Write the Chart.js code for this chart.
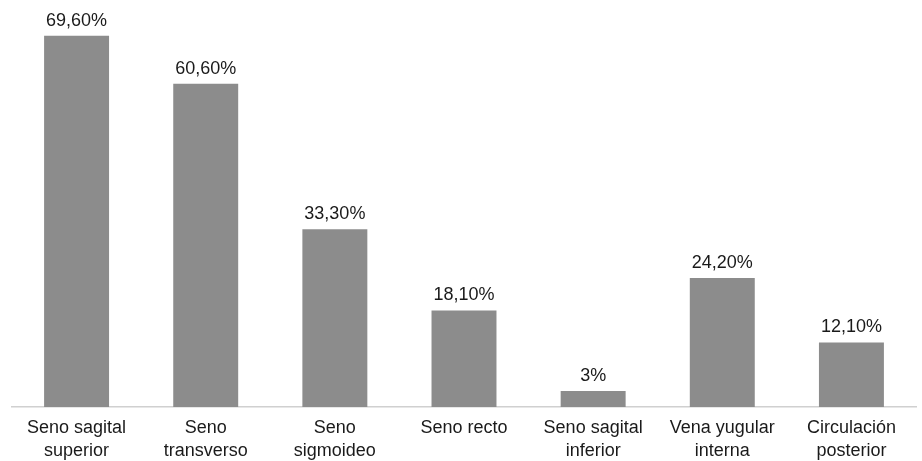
<!DOCTYPE html>
<html>
<head>
<meta charset="utf-8">
<script src="https://cdn.jsdelivr.net/npm/chart.js@4"></script>
<style>
    html, body { margin: 0; padding: 0; background: #fff; }
    #wrap { width: 922px; height: 461px; }
</style>
</head>
<body>
<div id="wrap"><canvas id="myChart"></canvas></div>
<script>
"use strict"

const categories = [
    ["Seno sagital", "superior"],
    ["Seno", "transverso"],
    ["Seno", "sigmoideo"],
    "Seno recto",
    ["Seno sagital", "inferior"],
    ["Vena yugular", "interna"],
    ["Circulación", "posterior"]
];
const percentages = [69.6, 60.6, 33.3, 18.1, 3, 24.2, 12.1];
const valueLabels = ["69,60%", "60,60%", "33,30%", "18,10%", "3%", "24,20%", "12,10%"];

const FONT = "'Liberation Sans', Arial, Helvetica, sans-serif";

// draws the value above each bar
const barValues = {
    id: "barValues",
    afterDatasetsDraw(chart) {
        const ctx = chart.ctx;
        const meta = chart.getDatasetMeta(0);
        ctx.save();
        ctx.font = "18px " + FONT;
        ctx.fillStyle = "#1a1a1a";
        ctx.textAlign = "center";
        ctx.textBaseline = "alphabetic";
        meta.data.forEach((bar, i) => {
            ctx.fillText(valueLabels[i], bar.x, bar.y - 10);
        });
        ctx.restore();
    }
};

const ctx = document.getElementById("myChart").getContext("2d");

new Chart(ctx, {
    type: "bar",
    data: {
        labels: categories,
        datasets: [{
            data: percentages,
            backgroundColor: "#8c8c8c",
            borderWidth: 0,
            barPercentage: 1,
            categoryPercentage: 0.503
        }]
    },
    options: {
        responsive: true,
        maintainAspectRatio: false,
        animation: false,
        layout: {
            padding: { left: 12, right: 6, top: 0, bottom: 0 }
        },
        scales: {
            x: {
                grid: { display: false, drawTicks: false },
                border: { color: "#d0d0d0", width: 1.5 },
                ticks: {
                    color: "#1a1a1a",
                    padding: 10,
                    maxRotation: 0,
                    autoSkip: false,
                    font: { family: FONT, size: 18, lineHeight: 1.25 }
                },
                afterFit(scale) {
                    scale.height = 54;
                }
            },
            y: {
                display: false,
                min: 0,
                max: 76.3
            }
        },
        plugins: {
            legend: { display: false },
            tooltip: { enabled: false }
        }
    },
    plugins: [barValues]
});
</script>
</body>
</html>
